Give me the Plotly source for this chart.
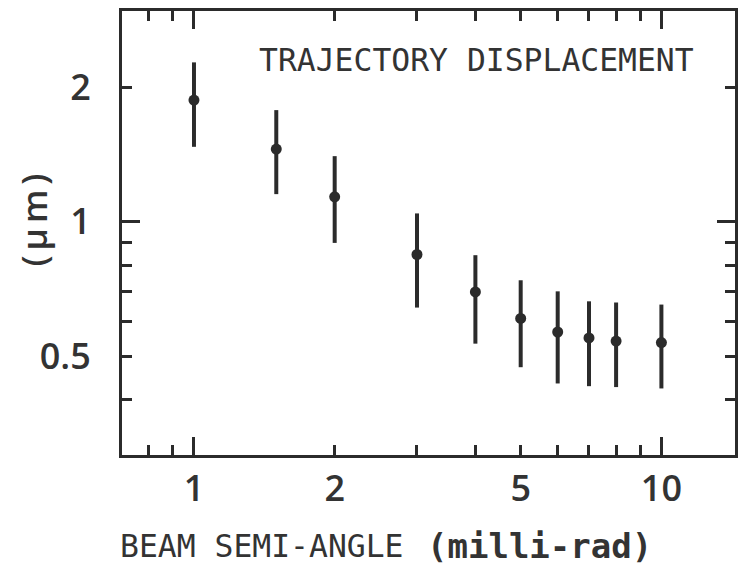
import math
import plotly.graph_objects as go

# ---- data ----
beam_angle = [1, 1.5, 2, 3, 4, 5, 6, 7, 8, 10]                       # milli-rad
displacement = [1.871, 1.454, 1.137, 0.845, 0.697, 0.608, 0.567, 0.550, 0.541, 0.537]  # um
disp_upper = [2.272, 1.777, 1.402, 1.044, 0.842, 0.740, 0.699, 0.664, 0.660, 0.653]
disp_lower = [1.471, 1.153, 0.897, 0.643, 0.534, 0.473, 0.435, 0.429, 0.427, 0.424]

x_tickvals = [0.8, 0.9, 1, 2, 3, 4, 5, 6, 7, 8, 9, 10]
x_ticktext = ["", "", "1", "2", "", "", "5", "", "", "", "", "10"]
x_long_ticks = [1, 10]
y_tickvals = [0.4, 0.5, 0.6, 0.7, 0.8, 0.9, 1, 2]
y_ticktext = ["", "0.5", "", "", "", "", "1", "2"]
y_long_ticks = [1]

x_range = [0.7015, 14.37]
y_range = [0.301, 2.96]

INK = "#2b2b2b"
TXT = "#333333"

err_plus = [u - v for u, v in zip(disp_upper, displacement)]
err_minus = [v - l for v, l in zip(displacement, disp_lower)]

fig = go.Figure()
fig.add_trace(go.Scatter(
    x=beam_angle, y=displacement, mode="markers",
    marker=dict(size=11, color=INK),
    error_y=dict(type="data", array=err_plus, arrayminus=err_minus,
                 symmetric=False, thickness=4, width=0, color=INK),
    showlegend=False, hoverinfo="skip",
))
# invisible trace on overlay axes (long ticks)
fig.add_trace(go.Scatter(
    x=beam_angle, y=displacement, xaxis="x2", yaxis="y2", mode="markers",
    marker=dict(size=1, opacity=0), showlegend=False, hoverinfo="skip",
))

tickfont = dict(family="Open Sans", size=36, color=TXT, weight=600)
lx = [math.log10(v) for v in x_range]
ly = [math.log10(v) for v in y_range]

fig.update_layout(
    width=738, height=567,
    margin=dict(l=122, r=0, t=11, b=112),
    paper_bgcolor="white", plot_bgcolor="white",
    xaxis=dict(type="log", range=lx, tickmode="array", tickvals=x_tickvals,
               ticktext=x_ticktext, ticks="inside", ticklen=10, tickwidth=3,
               tickcolor=INK, showline=True, linewidth=3, linecolor=INK,
               mirror="ticks", showgrid=False, zeroline=False,
               tickfont=tickfont, ticklabelstandoff=0),
    yaxis=dict(type="log", range=ly, tickmode="array", tickvals=y_tickvals,
               ticktext=y_ticktext, ticks="inside", ticklen=10, tickwidth=3,
               tickcolor=INK, showline=True, linewidth=3, linecolor=INK,
               mirror="ticks", showgrid=False, zeroline=False,
               tickfont=tickfont, ticklabelstandoff=21),
    xaxis2=dict(type="log", range=lx, overlaying="x", anchor="y", side="bottom",
                tickmode="array", tickvals=x_long_ticks, ticks="inside",
                ticklen=18, tickwidth=3, tickcolor=INK, showticklabels=False,
                showline=False, mirror="ticks", showgrid=False, zeroline=False),
    yaxis2=dict(type="log", range=ly, overlaying="y", anchor="x", side="left",
                tickmode="array", tickvals=y_long_ticks, ticks="inside",
                ticklen=18, tickwidth=3, tickcolor=INK, showticklabels=False,
                showline=False, mirror="ticks", showgrid=False, zeroline=False),
    annotations=[
        dict(text="TRAJECTORY DISPLACEMENT", xref="paper", yref="paper",
             x=0.220, y=0.89, xanchor="left", yanchor="middle", showarrow=False,
             font=dict(family="DejaVu Sans Mono", size=31.4, color=TXT)),
        dict(text="BEAM SEMI-ANGLE", xref="paper", yref="paper", x=-0.007, y=-0.204,
             xanchor="left", yanchor="middle", showarrow=False,
             font=dict(family="DejaVu Sans Mono", size=31.4, color=TXT)),
        dict(text="(milli-rad)",
             xref="paper", yref="paper", x=0.494, y=-0.204,
             xanchor="left", yanchor="middle", showarrow=False,
             font=dict(family="DejaVu Sans Mono", size=34, color=TXT, weight="bold")),
        dict(text='<span style="letter-spacing:5px">(μm)</span>', xref="paper", yref="paper",
             x=-0.145, y=0.535, xanchor="center", yanchor="middle", textangle=-90,
             showarrow=False, font=dict(family="Open Sans", size=35, color=TXT, weight=600)),
    ],
)

fig.write_html("out.html")
